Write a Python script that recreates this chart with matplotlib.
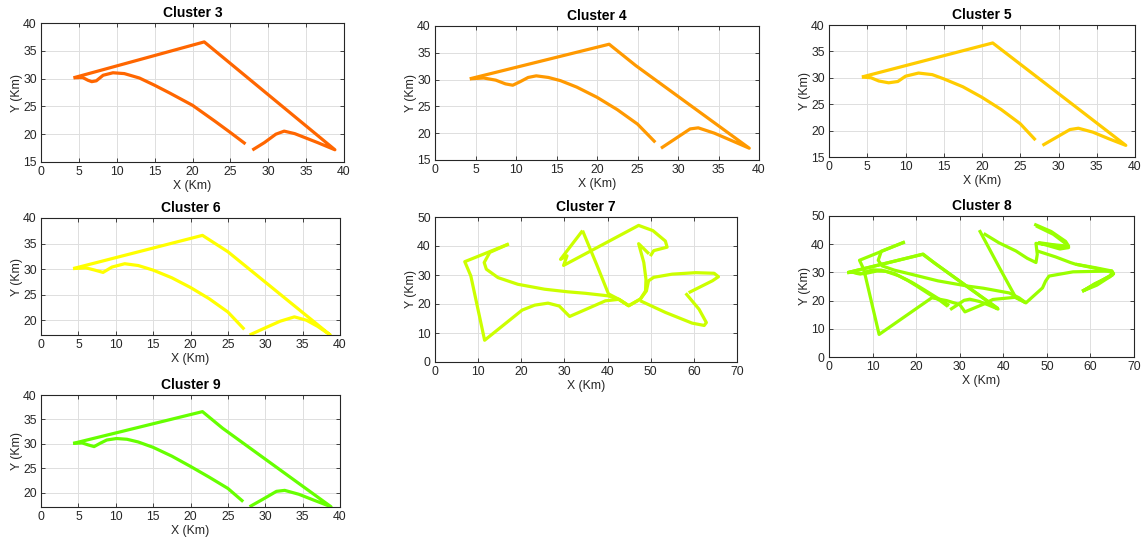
import matplotlib
matplotlib.use("Agg")
import matplotlib.pyplot as plt

plt.rcParams['font.family'] = ['Liberation Sans', 'DejaVu Sans']

# ---------------- data ----------------
titles = ["Cluster 3", "Cluster 4", "Cluster 5", "Cluster 6", "Cluster 7", "Cluster 8", "Cluster 9"]
colors = ["#FF6600", "#FF9900", "#FFCC00", "#FFFF00", "#CCFF00", "#99FF00", "#66FF00"]

c3_x = [[4.3, 5.5, 6.2, 6.7, 7.3, 8.2, 9.5, 11, 13, 15, 17, 20, 23, 25, 27],
        [4.3, 21.55, 38.8, 36.5, 35, 33.5, 32.1, 31, 29.5, 27.9]]
c3_y = [[30.15, 30.2, 29.7, 29.45, 29.6, 30.6, 31.05, 30.9, 30.1, 28.8, 27.4, 25.2, 22.3, 20.3, 18.25],
        [30.15, 36.6, 17.2, 18.5, 19.3, 20.1, 20.55, 20.0, 18.5, 17.15]]

c4_x = [[4.3, 6, 7.5, 8.7, 9.6, 10.5, 11.5, 12.5, 14, 15.5, 17.5, 20, 22.5, 25, 27.2],
        [4.3, 21.5, 24.8, 38.8, 36.5, 34.5, 32.5, 31.5, 29.7, 27.9]]
c4_y = [[30.15, 30.3, 29.9, 29.2, 28.95, 29.6, 30.4, 30.7, 30.4, 29.8, 28.6, 26.7, 24.4, 21.7, 18.3],
        [30.15, 36.6, 32.6, 17.2, 18.7, 20.0, 21.0, 20.8, 19.0, 17.2]]

c5_x = [[4.3, 5.5, 6.5, 7.8, 9, 10, 11.7, 13.5, 15, 17.5, 20, 22.5, 25, 27.0],
        [4.3, 21.4, 38.8, 36.5, 34.5, 32.6, 31.5, 29.7, 27.9]]
c5_y = [[30.15, 30.0, 29.4, 29.05, 29.3, 30.3, 30.9, 30.6, 29.8, 28.3, 26.3, 24.0, 21.3, 18.2],
        [30.15, 36.6, 17.2, 18.5, 19.7, 20.45, 20.2, 18.7, 17.2]]

c6_x = [[4.3, 6, 7.2, 8.3, 9.5, 11.2, 13, 15, 17.5, 20, 22.5, 25, 27.2],
        [4.3, 21.6, 25, 38.7, 37, 35.5, 33.9, 32, 30, 27.9]]
c6_y = [[30.1, 30.25, 29.8, 29.35, 30.4, 31.05, 30.7, 29.8, 28.3, 26.4, 24.2, 21.6, 18.2],
        [30.1, 36.6, 33.4, 17.1, 18.8, 20.0, 20.65, 19.8, 18.5, 17.1]]

c7_x = [[17.1, 6.9, 8.3, 11.5, 20.2, 23.1, 26.2, 28.8, 31.2, 34.6, 39.5, 42.6, 44.9, 47.6, 49.0, 49.5,
         50.7, 55.0, 60.4, 64.7, 65.7, 64.3, 58.8],
        [17.1, 12.7, 11.4, 11.9, 14.6, 19.2, 25.4, 30.8, 34.8, 40.2, 42.6, 44.9, 47.6, 48.8, 48.9, 48.4,
         47.2, 49.6],
        [34.2, 29.1, 30.6, 29.8, 47.2, 50.5, 53.4, 53.8, 50.7, 49.9],
        [34.2, 37.5, 40.2, 42.9, 44.9],
        [58.1, 61.2, 62.9, 62.4, 59.6, 53.4, 47.6]]
c7_y = [[40.7, 34.6, 29.7, 7.5, 17.9, 19.6, 20.3, 19.3, 15.7, 17.9, 21.1, 21.6, 19.4, 21.7, 24.5, 28.0,
         29.2, 30.3, 30.8, 30.6, 29.4, 28.0, 23.9],
        [40.7, 37.8, 34.3, 32.0, 29.1, 26.8, 25.1, 24.2, 23.7, 22.8, 21.6, 19.4, 21.7, 24.5, 28.5, 34.3,
         40.8, 37.3],
        [45.3, 35.4, 36.6, 33.3, 47.1, 45.3, 41.7, 39.6, 38.4, 36.5],
        [45.3, 33.5, 23.5, 21.4, 19.4],
        [23.7, 18.2, 13.6, 12.6, 13.4, 17.1, 21.1]]

c8_x = [[4.2, 21.5, 38.8, 36.5, 34.5, 32.3, 31, 29.5, 27.8],
        [4.2, 21.6, 24.3, 38.8],
        [4.2, 5.5, 6.5, 7.2, 8.5, 10, 12, 15, 18, 20, 23, 25.5, 27.3],
        [5, 8, 11, 13, 16, 19, 22, 25, 27.6],
        [17.4, 7.0, 8.0, 11.5, 23.6, 27.0, 30.0, 31.2, 35.4, 37.6, 42.9, 45.2, 49.0, 49.7, 50.5, 56.0,
         64.9, 65.3, 58.1],
        [17.4, 12.0, 11.3, 12.2, 15.0, 19.0, 25.0, 32.0, 35.4, 41.4, 43.6, 45.2],
        [34.5, 39.0, 42.9, 45.2],
        [35.5, 39.0, 42.9, 45.5, 47.5, 47.8, 47.5, 51.0, 55.0, 53.0, 48.0],
        [47.1, 51, 54.3, 55.0, 51.5, 48.0],
        [47.5, 51.5, 54.5],
        [47.8, 52, 55.4, 56.6, 61, 64.9, 65.3, 62, 58.1],
        [56.6, 62, 65.0, 64.5, 61, 58.5],
        [58.1, 61.5, 65.2]]
c8_y = [[29.9, 36.4, 17.0, 18.5, 19.7, 20.5, 20.1, 18.5, 16.8],
        [29.9, 36.5, 33.2, 17.2],
        [29.9, 30.1, 29.6, 29.4, 30.2, 30.9, 30.8, 29.6, 27.2, 25.3, 22.3, 20.0, 17.9],
        [30.1, 29.5, 30.5, 30.4, 28.8, 26.5, 23.7, 20.8, 18.3],
        [40.8, 34.3, 31.0, 8.0, 21.0, 20.0, 18.6, 16.0, 18.7, 20.4, 21.2, 19.2, 24.5, 26.9, 28.7, 30.2,
         30.5, 29.5, 23.3],
        [40.8, 37.5, 34.3, 32.3, 30.8, 29.3, 27.0, 25.1, 24.4, 22.7, 21.0, 19.2],
        [45.0, 32.0, 21.0, 19.2],
        [43.8, 40.5, 37.6, 35.0, 33.5, 36.4, 40.3, 39.8, 38.8, 38.3, 40.5],
        [47.1, 44.5, 41.0, 39.3, 39.8, 40.6],
        [46.5, 43.5, 40.0],
        [37.6, 35.5, 33.5, 32.9, 31.7, 30.5, 29.5, 26.5, 23.3],
        [32.9, 31.2, 30.0, 28.5, 26.0, 23.6],
        [23.3, 25.5, 29.2]]

c9_x = [[4.3, 5.5, 6.3, 7.1, 8, 8.8, 10.1, 11.5, 13, 15, 17.5, 20, 22.5, 25, 27.05],
        [4.3, 21.6, 24.3, 38.8, 36.5, 34.5, 32.6, 31.5, 29.7, 27.9]]
c9_y = [[30.1, 30.2, 29.8, 29.45, 30.2, 30.8, 31.1, 30.95, 30.4, 29.3, 27.5, 25.4, 23.2, 20.9, 18.2],
        [30.1, 36.6, 33.2, 17.15, 18.5, 19.7, 20.5, 20.3, 18.7, 17.15]]

xlims = [(0, 40), (0, 40), (0, 40), (0, 40), (0, 70), (0, 70), (0, 40)]
ylims = [(15, 40), (15, 40), (15, 40), (17.1, 40), (0, 50), (0, 50), (17.1, 40)]
xticks_list = [range(0, 41, 5)] * 4 + [range(0, 71, 10)] * 2 + [range(0, 41, 5)]
yticks_list = [range(15, 41, 5)] * 3 + [range(20, 41, 5)] + [range(0, 51, 10)] * 2 + [range(20, 41, 5)]

all_x = [c3_x, c4_x, c5_x, c6_x, c7_x, c8_x, c9_x]
all_y = [c3_y, c4_y, c5_y, c6_y, c7_y, c8_y, c9_y]

# axes boxes in pixels: left, right, top, bottom
boxes = [(41, 344, 23, 162), (435, 759, 26, 160), (829, 1135, 25, 157),
         (41, 340, 218, 335), (435, 737, 217, 362), (829, 1134, 216, 357),
         (41, 340, 395, 507)]

W, H = 1144, 542
fig = plt.figure(figsize=(W / 100, H / 100), dpi=100)
fig.patch.set_facecolor('white')

dark = '#262626'
for i in range(7):
    l, r, t, b = boxes[i]
    ax = fig.add_axes([l / W, 1 - b / H, (r - l) / W, (b - t) / H])
    for xs, ys in zip(all_x[i], all_y[i]):
        ax.plot(xs, ys, color=colors[i], lw=2.3, solid_joinstyle='round', solid_capstyle='butt')
    ax.set_xlim(*xlims[i])
    ax.set_ylim(*ylims[i])
    ax.set_xticks(list(xticks_list[i]))
    ax.set_yticks(list(yticks_list[i]))
    ax.grid(True, color='#dedede', lw=0.7)
    ax.set_axisbelow(True)
    ax.tick_params(direction='in', length=3, width=0.6, top=True, right=True,
                   colors=dark, labelsize=8.8, pad=3)
    for s in ax.spines.values():
        s.set_color(dark)
        s.set_linewidth(0.8)
    ax.set_title(titles[i], fontsize=10, fontweight='bold', color='black', pad=4)
    ax.set_xlabel("X (Km)", fontsize=8.8, color=dark, labelpad=1.5)
    ax.set_ylabel("Y (Km)", fontsize=8.8, color=dark, labelpad=0.5)

fig.savefig("out.png", dpi=100, facecolor='white')
